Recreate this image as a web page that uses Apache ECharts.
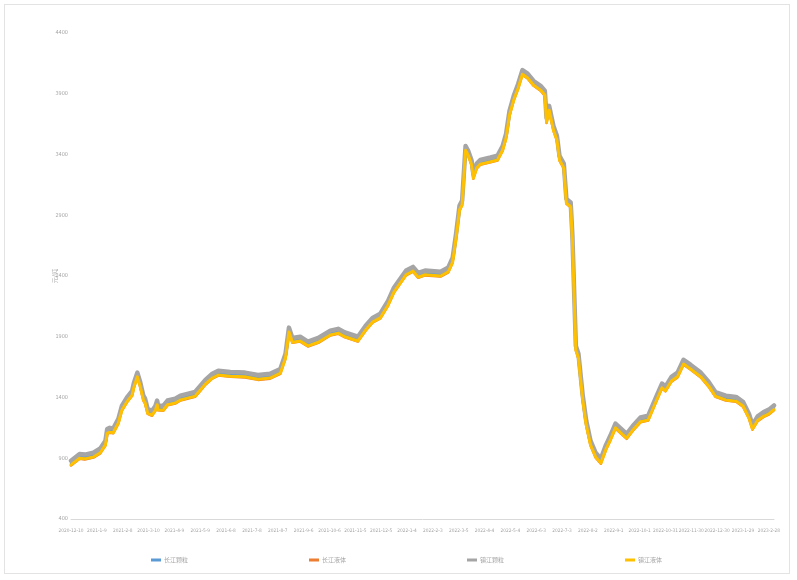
<!DOCTYPE html>
<html>
<head>
<meta charset="utf-8">
<script src="https://cdn.jsdelivr.net/npm/echarts@6/dist/echarts.min.js"></script>
<style>
  html, body { margin: 0; padding: 0; background: #fff; }
  #frame { position: absolute; left: 4px; top: 4px; width: 786px; height: 570px; border: 1px solid #e3e3e3; box-sizing: border-box; }
  #chart { position: absolute; left: 0; top: 0; width: 797px; height: 580px; }
</style>
</head>
<body>
<div id="frame"></div>
<div id="chart"></div>
<script>
// Daily sulphur spot prices (元/吨), sampled at the dates where the curve changes
const sampleDates = [
  '2020-12-10','2020-12-20','2020-12-26','2021-1-5','2021-1-13','2021-1-19','2021-1-21','2021-1-24','2021-1-28','2021-2-3',
  '2021-2-7','2021-2-13','2021-2-19','2021-2-21','2021-2-25','2021-2-28','2021-3-4','2021-3-6','2021-3-9','2021-3-14',
  '2021-3-18','2021-3-20','2021-3-21','2021-3-27','2021-4-1','2021-4-10','2021-4-16','2021-4-24','2021-5-3','2021-5-9',
  '2021-5-15','2021-5-23','2021-5-30','2021-6-13','2021-6-30','2021-7-15','2021-7-29','2021-8-10','2021-8-16','2021-8-20',
  '2021-8-24','2021-9-2','2021-9-11','2021-9-23','2021-10-7','2021-10-16','2021-10-24','2021-11-8','2021-11-17','2021-11-25',
  '2021-12-4','2021-12-13','2021-12-20','2021-12-27','2022-1-3','2022-1-11','2022-1-17','2022-1-25','2022-2-12','2022-2-21',
  '2022-2-26','2022-3-2','2022-3-6','2022-3-9','2022-3-13','2022-3-16','2022-3-20','2022-3-22','2022-3-26','2022-3-30',
  '2022-4-11','2022-4-19','2022-4-25','2022-4-29','2022-5-3','2022-5-8','2022-5-13','2022-5-18','2022-5-24','2022-5-31',
  '2022-6-8','2022-6-13','2022-6-15','2022-6-18','2022-6-23','2022-6-27','2022-6-30','2022-7-5','2022-7-8','2022-7-13',
  '2022-7-15','2022-7-19','2022-7-22','2022-7-27','2022-7-31','2022-8-5','2022-8-11','2022-8-17','2022-8-23','2022-8-28',
  '2022-9-3','2022-9-9','2022-9-16','2022-9-23','2022-10-2','2022-10-11','2022-10-20','2022-10-27','2022-10-31','2022-11-7',
  '2022-11-14','2022-11-21','2022-11-29','2022-12-11','2022-12-20','2022-12-28','2023-1-9','2023-1-21','2023-1-29','2023-2-5',
  '2023-2-9','2023-2-15','2023-2-22','2023-2-28','2023-3-6'
];

const seriesNames = ['长江颗粒', '长江液体', '镇江颗粒', '镇江液体'];

const changjiangGranular = [
  860,915,910,925,960,1025,1120,1130,1125,1205,
  1310,1380,1435,1500,1585,1515,1395,1370,1285,1270,
  1310,1355,1315,1310,1355,1370,1395,1410,1425,1475,
  1525,1575,1600,1590,1585,1565,1575,1615,1740,1955,
  1870,1880,1840,1870,1930,1945,1915,1880,1970,2035,
  2070,2175,2285,2355,2425,2455,2405,2425,2415,2450,
  2530,2730,2960,3000,3450,3410,3330,3220,3305,3335,
  3355,3370,3450,3550,3740,3865,3960,4075,4045,3985,
  3945,3905,3680,3780,3615,3535,3370,3305,3015,2985,
  2710,1805,1740,1395,1190,1025,925,875,990,1065,
  1165,1125,1080,1145,1215,1230,1380,1495,1470,1550,
  1585,1690,1650,1585,1510,1425,1395,1385,1345,1245,
  1155,1225,1260,1280,1315
];

const changjiangLiquid = [
  840,895,890,905,940,1005,1100,1110,1105,1185,
  1290,1360,1415,1480,1565,1495,1375,1350,1265,1250,
  1290,1335,1295,1290,1335,1350,1375,1390,1405,1455,
  1505,1555,1580,1570,1565,1545,1555,1595,1720,1935,
  1850,1860,1820,1850,1910,1925,1895,1860,1950,2015,
  2050,2155,2265,2335,2405,2435,2385,2405,2395,2430,
  2510,2710,2940,2980,3430,3390,3310,3200,3285,3315,
  3335,3350,3430,3530,3720,3845,3940,4055,4025,3965,
  3925,3885,3660,3760,3595,3515,3350,3285,2995,2965,
  2690,1785,1720,1375,1170,1005,905,855,970,1045,
  1145,1105,1060,1125,1195,1210,1360,1475,1450,1530,
  1565,1670,1630,1565,1490,1405,1375,1365,1325,1225,
  1135,1205,1240,1260,1295
];

const zhenjiangGranular = [
  880,935,930,945,980,1045,1140,1150,1145,1225,
  1330,1400,1455,1520,1605,1535,1415,1390,1305,1290,
  1330,1375,1335,1330,1375,1390,1415,1430,1445,1495,
  1545,1595,1620,1610,1605,1585,1595,1635,1760,1975,
  1890,1900,1860,1890,1950,1965,1935,1900,1990,2055,
  2090,2195,2305,2375,2445,2475,2425,2445,2435,2470,
  2550,2750,2980,3020,3470,3430,3350,3240,3325,3355,
  3375,3390,3470,3570,3760,3885,3980,4095,4065,4005,
  3965,3925,3700,3800,3635,3555,3390,3325,3035,3005,
  2730,1825,1760,1415,1210,1045,945,895,1010,1085,
  1185,1145,1100,1165,1235,1250,1400,1515,1490,1570,
  1605,1710,1670,1605,1530,1445,1415,1405,1365,1265,
  1175,1245,1280,1300,1335
];

const zhenjiangLiquid = [
  845,900,895,910,945,1010,1105,1115,1110,1190,
  1295,1365,1420,1485,1570,1500,1380,1355,1270,1255,
  1295,1340,1300,1295,1340,1355,1380,1395,1410,1460,
  1510,1560,1585,1575,1570,1550,1560,1600,1725,1940,
  1855,1865,1825,1855,1915,1930,1900,1865,1955,2020,
  2055,2160,2270,2340,2410,2440,2390,2410,2400,2435,
  2515,2715,2945,2985,3435,3395,3315,3205,3290,3320,
  3340,3355,3435,3535,3725,3850,3945,4060,4030,3970,
  3930,3890,3665,3765,3600,3520,3355,3290,3000,2970,
  2695,1790,1725,1380,1175,1010,910,860,975,1050,
  1150,1110,1065,1130,1200,1215,1365,1480,1455,1535,
  1570,1675,1635,1570,1495,1410,1380,1370,1330,1230,
  1140,1210,1245,1265,1300
];

const yTicks = { min: 400, max: 4400, interval: 500 };
const labelEveryDays = 30;
const colors = ['#5B9BD5', '#ED7D31', '#A5A5A5', '#FFC000'];
const widths = [2.5, 2.5, 4.5, 3];

// one category per calendar day
function dayCategories(start, end) {
  const out = [];
  const d = new Date(start + 'T00:00:00Z');
  const e = new Date(end + 'T00:00:00Z');
  while (d <= e) {
    out.push(d.getUTCFullYear() + '-' + (d.getUTCMonth() + 1) + '-' + d.getUTCDate());
    d.setUTCDate(d.getUTCDate() + 1);
  }
  return out;
}
const categories = dayCategories('2020-12-10', '2023-03-06');

const valueSets = [changjiangGranular, changjiangLiquid, zhenjiangGranular, zhenjiangLiquid];
const series = valueSets.map((vals, i) => ({
  name: seriesNames[i],
  type: 'line',
  data: sampleDates.map((d, k) => [d, vals[k]]),
  showSymbol: false,
  symbol: 'none',
  lineStyle: { color: colors[i], width: widths[i], join: 'round', cap: 'round' },
  itemStyle: { color: colors[i] },
  animation: false
}));

const chart = echarts.init(document.getElementById('chart'), null, { renderer: 'canvas' });
const narrowFont = 'DejaVu Sans Condensed, Liberation Sans Narrow, sans-serif';

chart.setOption({
  backgroundColor: 'transparent',
  animation: false,
  grid: { left: 71, right: 23, top: 33, bottom: 61, containLabel: false },
  legend: {
    left: 146, top: 552,
    itemWidth: 10, itemHeight: 3, itemGap: 121,
    icon: 'rect',
    textStyle: { fontFamily: 'Noto Sans CJK SC', fontSize: 6, color: '#a6a6a6', padding: [0, 0, 0, -2] },
    data: seriesNames
  },
  xAxis: {
    type: 'category',
    data: categories,
    boundaryGap: false,
    axisLine: { lineStyle: { color: '#d9d9d9', width: 1 } },
    axisTick: { show: false },
    axisLabel: {
      interval: (index) => index % labelEveryDays === 0,
      margin: 9, hideOverlap: false,
      fontFamily: narrowFont, fontSize: 4.8, color: '#a6a6a6'
    },
    splitLine: { show: false }
  },
  yAxis: {
    type: 'value',
    min: yTicks.min, max: yTicks.max, interval: yTicks.interval,
    name: '元/吨',
    nameLocation: 'middle',
    nameRotate: 90,
    nameGap: 13,
    nameMoveOverlap: false,
    nameTextStyle: { fontFamily: 'Noto Sans CJK SC', fontSize: 6, color: '#a6a6a6' },
    axisLine: { show: false },
    axisTick: { show: false },
    splitLine: { show: false },
    axisLabel: {
      margin: 3, formatter: v => String(v),
      fontFamily: narrowFont, fontSize: 5.5, color: '#a6a6a6'
    }
  },
  series: series
});
</script>
</body>
</html>
